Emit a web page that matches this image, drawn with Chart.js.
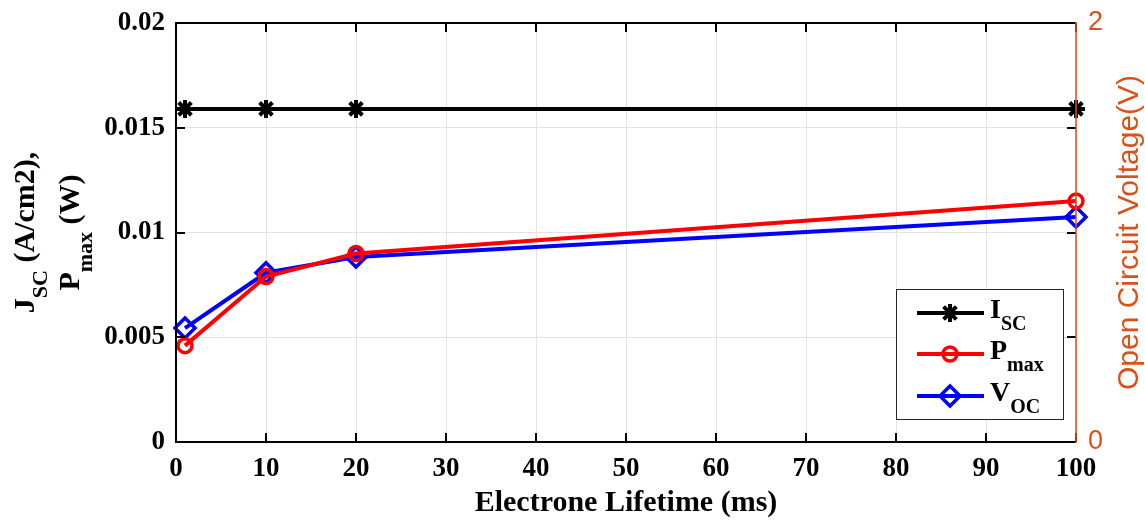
<!DOCTYPE html>
<html>
<head>
<meta charset="utf-8">
<script src="https://cdn.jsdelivr.net/npm/chart.js@4"></script>
<style>
  html, body { margin: 0; padding: 0; background: #fff; }
  #wrap { width: 1145px; height: 520px; }
</style>
</head>
<body>
<div id="wrap"><canvas id="chart" width="1145" height="520"></canvas></div>
<script>
// Data
const lifetimes = [1, 10, 20, 100];            // ms
const jscValues = [0.0159, 0.0159, 0.0159, 0.0159];
const pmaxValues = [0.0046, 0.0079, 0.0090, 0.0115];
const vocValues = [0.544, 0.808, 0.883, 1.074]; // V, right axis
const xTicks = [0, 10, 20, 30, 40, 50, 60, 70, 80, 90, 100];
const yTicks = [0, 0.005, 0.01, 0.015, 0.02];

const ORANGE = '#D95319';
const SERIF = '"Liberation Serif", "Times New Roman", serif';
const SANS = '"Liberation Sans", Arial, sans-serif';

function pts(ys) {
    return lifetimes.map((x, i) => ({ x: x, y: ys[i] }));
}

// main text + subscript + rest, returns width and a draw function
function subText(ctx, main, sub, rest, y, size, subSize, subDrop) {
    ctx.font = 'bold ' + size + 'px ' + SERIF;
    const w1 = ctx.measureText(main).width;
    const w3 = ctx.measureText(rest).width;
    ctx.font = 'bold ' + subSize + 'px ' + SERIF;
    const w2 = ctx.measureText(sub).width;
    return { w: w1 + w2 + w3, draw(startX) {
        ctx.font = 'bold ' + size + 'px ' + SERIF;
        ctx.fillText(main, startX, y);
        ctx.font = 'bold ' + subSize + 'px ' + SERIF;
        ctx.fillText(sub, startX + w1, y + subDrop);
        ctx.font = 'bold ' + size + 'px ' + SERIF;
        ctx.fillText(rest, startX + w1 + w2, y);
    } };
}

const decorations = {
    id: 'decorations',
    afterDatasetsDraw(chart) {
        const ctx = chart.ctx;
        const a = chart.chartArea;
        const xs = chart.scales.x, ys = chart.scales.y;
        ctx.save();
        // inward tick marks
        ctx.strokeStyle = '#000';
        ctx.lineWidth = 2;
        ctx.beginPath();
        xTicks.forEach(t => {
            const px = Math.round(xs.getPixelForValue(t));
            ctx.moveTo(px, a.bottom); ctx.lineTo(px, a.bottom - 9);
            ctx.moveTo(px, a.top); ctx.lineTo(px, a.top + 9);
        });
        yTicks.forEach(t => {
            const py = Math.round(ys.getPixelForValue(t));
            ctx.moveTo(a.left, py); ctx.lineTo(a.left + 9, py);
            ctx.moveTo(a.right, py); ctx.lineTo(a.right - 9, py);
        });
        ctx.stroke();
        // box
        ctx.beginPath();
        ctx.moveTo(a.right, a.top);
        ctx.lineTo(a.left, a.top);
        ctx.lineTo(a.left, a.bottom);
        ctx.lineTo(a.right, a.bottom);
        ctx.stroke();
        ctx.strokeStyle = ORANGE;
        ctx.lineWidth = 1.5;
        ctx.beginPath();
        ctx.moveTo(a.right, a.top - 1);
        ctx.lineTo(a.right, a.bottom + 1);
        ctx.stroke();

        // legend
        const lx = 896, ly = 289, lw = 167, lh = 130;
        ctx.fillStyle = '#fff';
        ctx.fillRect(lx, ly, lw, lh);
        ctx.strokeStyle = '#262626';
        ctx.lineWidth = 1;
        ctx.strokeRect(lx + 0.5, ly + 0.5, lw, lh);
        const entries = [
            { color: '#000', style: 'star', r: 9, bw: 4, main: 'I', sub: 'SC', y: 313 },
            { color: '#ff0000', style: 'circle', r: 7, bw: 3.5, main: 'P', sub: 'max', y: 354 },
            { color: '#0000ff', style: 'rectRot', r: 10, bw: 3.5, main: 'V', sub: 'OC', y: 396 }
        ];
        entries.forEach(e => {
            ctx.strokeStyle = e.color;
            ctx.lineWidth = 4;
            ctx.beginPath();
            ctx.moveTo(917, e.y); ctx.lineTo(984, e.y);
            ctx.stroke();
            ctx.lineWidth = e.bw;
            ctx.fillStyle = 'rgba(0,0,0,0)';
            Chart.helpers.drawPoint(ctx, { pointStyle: e.style, radius: e.r, borderWidth: e.bw }, 950, e.y);
            ctx.fillStyle = '#000';
            ctx.textBaseline = 'alphabetic';
            ctx.textAlign = 'left';
            subText(ctx, e.main, e.sub, '', e.y + 5, 28, 20, 12).draw(990);
        });

        // axis titles
        ctx.fillStyle = '#000';
        ctx.textAlign = 'left';
        ctx.textBaseline = 'alphabetic';
        ctx.font = 'bold 30px ' + SERIF;
        const xt = 'Electrone Lifetime (ms)';
        const xw = ctx.measureText(xt).width;
        ctx.fillText(xt, (a.left + a.right) / 2 - xw / 2, 511);

        const cy = (a.top + a.bottom) / 2;
        ctx.save();
        ctx.translate(34, cy);
        ctx.rotate(-Math.PI / 2);
        let t1 = subText(ctx, 'J', 'SC', ' (A/cm2),', 0, 30, 22, 13);
        t1.draw(-t1.w / 2);
        ctx.restore();
        ctx.save();
        ctx.translate(79, cy);
        ctx.rotate(-Math.PI / 2);
        let t2 = subText(ctx, 'P', 'max', ' (W)', 0, 30, 22, 13);
        t2.draw(-t2.w / 2);
        ctx.restore();

        ctx.save();
        ctx.translate(1138, cy);
        ctx.rotate(-Math.PI / 2);
        ctx.fillStyle = ORANGE;
        ctx.font = '30px ' + SANS;
        ctx.textAlign = 'center';
        ctx.fillText('Open Circuit Voltage(V)', 0, 0);
        ctx.restore();

        ctx.restore();
    }
};

new Chart(document.getElementById('chart'), {
    type: 'line',
    data: {
        datasets: [
            {
                label: 'ISC',
                data: pts(jscValues),
                yAxisID: 'y',
                borderColor: '#000',
                backgroundColor: 'rgba(0,0,0,0)',
                borderWidth: 4,
                pointStyle: 'star',
                pointRadius: 9,
                pointBorderWidth: 4,
                clip: false
            },
            {
                label: 'Pmax',
                data: pts(pmaxValues),
                yAxisID: 'y',
                borderColor: '#ff0000',
                backgroundColor: 'rgba(0,0,0,0)',
                borderWidth: 4,
                pointStyle: 'circle',
                pointRadius: 7,
                pointBorderWidth: 3.5,
                clip: false
            },
            {
                label: 'VOC',
                data: pts(vocValues),
                yAxisID: 'y2',
                borderColor: '#0000ff',
                backgroundColor: 'rgba(0,0,0,0)',
                borderWidth: 4,
                pointStyle: 'rectRot',
                pointRadius: 10,
                pointBorderWidth: 3.5,
                clip: false
            }
        ]
    },
    options: {
        responsive: false,
        animation: false,
        layout: { padding: { top: 23, left: 0, right: 0, bottom: 0 } },
        plugins: {
            legend: { display: false },
            tooltip: { enabled: false }
        },
        scales: {
            x: {
                type: 'linear',
                min: 0,
                max: 100,
                afterBuildTicks: s => { s.ticks = xTicks.map(v => ({ value: v })); },
                afterFit: s => { s.height = 78; s.paddingLeft = 0; s.paddingRight = 0; },
                grid: { color: '#e3e3e3', lineWidth: 1, drawTicks: false },
                border: { display: false },
                ticks: {
                    color: '#000',
                    padding: 11,
                    maxRotation: 0,
                    font: { family: SERIF, size: 27, weight: 'bold' }
                }
            },
            y: {
                position: 'left',
                min: 0,
                max: 0.02,
                afterBuildTicks: s => { s.ticks = yTicks.map(v => ({ value: v })); },
                afterFit: s => { s.width = 176; s.paddingTop = 0; s.paddingBottom = 0; },
                grid: { color: '#e3e3e3', lineWidth: 1, drawTicks: false },
                border: { display: false },
                ticks: {
                    color: '#000',
                    padding: 11,
                    font: { family: SERIF, size: 27, weight: 'bold' },
                    callback: v => String(+v.toFixed(3))
                }
            },
            y2: {
                position: 'right',
                min: 0,
                max: 2,
                afterBuildTicks: s => { s.ticks = [{ value: 0 }, { value: 2 }]; },
                afterFit: s => { s.width = 69; s.paddingTop = 0; s.paddingBottom = 0; },
                grid: { drawOnChartArea: false, drawTicks: false },
                border: { display: false },
                ticks: {
                    color: ORANGE,
                    padding: 12,
                    font: { family: SANS, size: 27 }
                }
            }
        }
    },
    plugins: [decorations]
});
</script>
</body>
</html>
